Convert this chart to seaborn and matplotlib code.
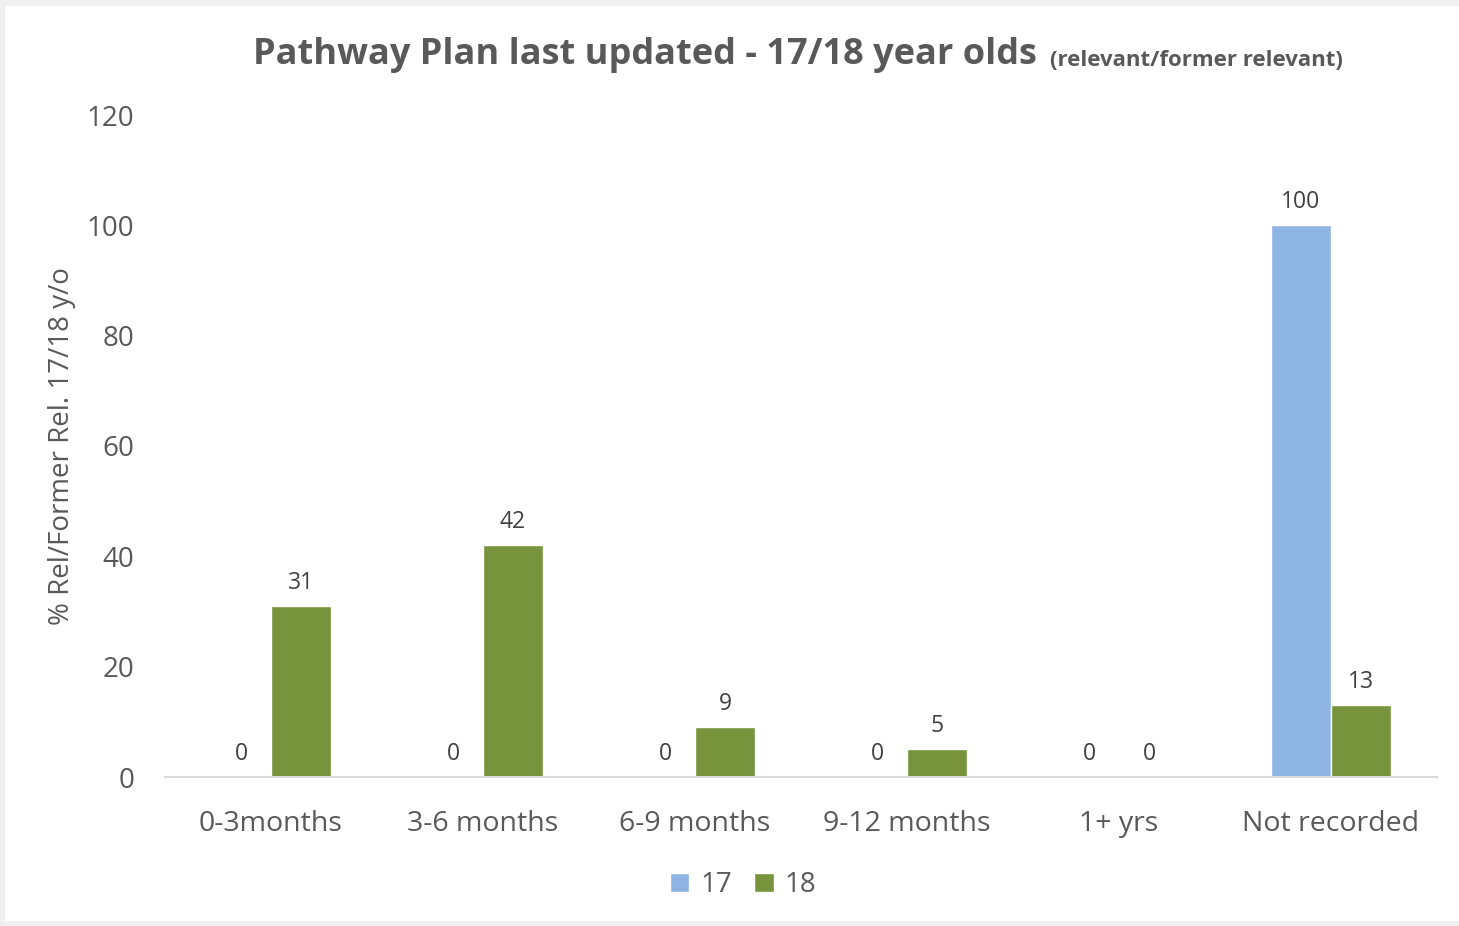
import matplotlib
matplotlib.use("Agg")
import matplotlib.pyplot as plt
from matplotlib.patches import Rectangle, Patch
import pandas as pd
import seaborn as sns

categories = ["0-3months", "3-6 months", "6-9 months", "9-12 months", "1+ yrs", "Not recorded"]
ages = ["17", "18"]
values_17 = [0, 0, 0, 0, 0, 100]
values_18 = [31, 42, 9, 5, 0, 13]
colors = {"17": "#8EB4E3", "18": "#77933C"}

df = pd.DataFrame({
    "category": categories * 2,
    "age": ["17"] * len(categories) + ["18"] * len(categories),
    "value": values_17 + values_18,
})

sns.set_style("white")
plt.rcParams["font.family"] = ["Open Sans", "DejaVu Sans"]
txt = "#595959"

fig = plt.figure(figsize=(14.59, 9.26), dpi=100, facecolor="#F0F0F0")
fig.patches.append(Rectangle((5 / 1459, 5 / 926), 1 - 5 / 1459, 1 - 11 / 926,
                             transform=fig.transFigure, facecolor="white",
                             edgecolor="none", zorder=-10))
ax = fig.add_axes([165 / 1459, 1 - 777 / 926, 1272 / 1459, 662 / 926])
ax.set_facecolor("none")

sns.barplot(data=df, x="category", y="value", hue="age", order=categories,
            hue_order=ages, palette=colors, width=0.566, saturation=1,
            legend=False, ax=ax)

for cont in ax.containers:
    ax.bar_label(cont, labels=[f"{v:.0f}" for v in cont.datavalues],
                 padding=8, fontsize=16.5, color="#404040")

ax.set_ylim(0, 120)
ax.set_yticks(range(0, 121, 20))
ax.set_xlim(-0.5, len(categories) - 0.5)
ax.tick_params(axis="y", labelsize=20, colors=txt, length=0, pad=22)
ax.tick_params(axis="x", labelsize=20.5, colors=txt, length=0, pad=24)
ax.set_xlabel("")
ax.set_ylabel("% Rel/Former Rel. 17/18 y/o", fontsize=20, color=txt, labelpad=8)
for s in ["top", "right", "left"]:
    ax.spines[s].set_visible(False)
ax.spines["bottom"].set_color("#D9D9D9")
ax.spines["bottom"].set_linewidth(1.5)

fig.text(253 / 1459, 1 - 55 / 926, "Pathway Plan last updated - 17/18 year olds",
         fontsize=26, fontweight="bold", color=txt, va="center", ha="left")
fig.text(1343 / 1459, 1 - 60 / 926, "(relevant/former relevant)",
         fontsize=16, fontweight="bold", color=txt, va="center", ha="right")

handles = [Patch(facecolor=colors[a], label=a) for a in ages]
fig.legend(handles=handles, loc="center", bbox_to_anchor=(743 / 1459, 1 - 885 / 926),
           ncol=2, frameon=False, fontsize=20, labelcolor=txt,
           handlelength=0.7, handleheight=0.7, handletextpad=0.4, columnspacing=0.8)

fig.savefig("out.png", dpi=100, facecolor=fig.get_facecolor())
